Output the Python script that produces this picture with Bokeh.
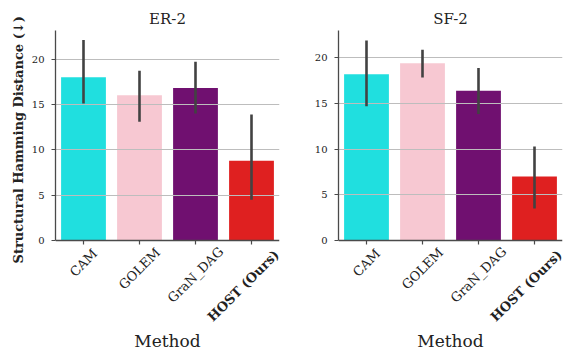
import math
from bokeh.plotting import figure
from bokeh.layouts import row
from bokeh.models import FactorRange, Range1d, FixedTicker, Label, Title
from bokeh.embed import file_html
from bokeh.resources import INLINE

methods = ["CAM", "GOLEM", "GraN_DAG", "HOST (Ours)"]
colors = ["#20dfdf", "#f7c8d2", "#701070", "#df2020"]
label_styles = ["normal", "normal", "normal", "bold"]
y_ticks = [0, 5, 10, 15, 20]

er2_mean = [18.0, 16.0, 16.8, 8.8]
er2_lo = [15.1, 13.1, 14.0, 4.5]
er2_hi = [22.1, 18.7, 19.7, 13.9]

sf2_mean = [18.2, 19.4, 16.4, 7.0]
sf2_lo = [14.7, 17.85, 13.85, 3.5]
sf2_hi = [21.9, 20.9, 18.9, 10.3]

FONT = "DejaVu Serif"
TEXT_COLOR = "#222222"
AXIS_COLOR = "#4a4a4a"
GRID_COLOR = "#bdbdbd"
ERR_COLOR = "#424242"

HEIGHT = 356
TOP = 30          # frame top (px)
ZERO = 240        # pixel row of y = 0
BOTTOM = 6        # border below frame
TICK_LEN = 4
FRAME_W = 224     # frame width (px)


def text_width(s, fs, bold):
    w = 0.0
    for c in s:
        if c.isupper():
            w += 0.76
        elif c.islower():
            w += 0.58
        elif c == " ":
            w += 0.32
        else:
            w += 0.45
    return 0.84 * w * fs * (1.22 if bold else 1.0)


def panel(title, mean, lo, hi, ymax, width, mb_left, mb_right, ylabel=None):
    n = len(methods)
    frame_bottom = HEIGHT - BOTTOM
    ystart = -ymax * (frame_bottom - ZERO) / (ZERO - TOP)
    px_per_unit = (ZERO - TOP) / ymax
    p = figure(x_range=FactorRange(*methods), y_range=Range1d(ystart, ymax),
               width=width, height=HEIGHT, output_backend="svg", toolbar_location=None,
               x_axis_location=None,
               min_border_left=mb_left, min_border_right=mb_right,
               min_border_top=TOP, min_border_bottom=BOTTOM)
    p.outline_line_color = None
    p.background_fill_color = "white"
    p.border_fill_color = "white"
    p.xgrid.visible = False
    p.ygrid.visible = False

    p.title.text = title
    p.title.align = "center"
    p.title.text_font = FONT
    p.title.text_font_size = "15px"
    p.title.text_font_style = "normal"
    p.title.text_color = TEXT_COLOR
    p.title.standoff = 6

    p.vbar(x=methods, top=mean, width=0.8, fill_color=colors, line_color=None)
    p.hspan(y=y_ticks[1:], line_color=GRID_COLOR, line_width=1.1)
    p.segment(x0=methods, y0=lo, x1=methods, y1=hi, line_color=ERR_COLOR,
              line_width=2.6)

    # x axis line and outward ticks at the categories
    p.hspan(y=[0], line_color=AXIS_COLOR, line_width=1.3)
    p.segment(x0=methods, y0=[0] * n, x1=methods,
              y1=[-TICK_LEN / px_per_unit] * n,
              line_color=AXIS_COLOR, line_width=1.2)

    ya = p.yaxis[0]
    ya.ticker = FixedTicker(ticks=y_ticks)
    ya.bounds = (0, ymax)
    ya.minor_tick_line_color = None
    ya.major_tick_in = 0
    ya.major_tick_out = TICK_LEN
    ya.major_tick_line_color = AXIS_COLOR
    ya.axis_line_color = AXIS_COLOR
    ya.axis_line_width = 1.3
    ya.major_label_text_font = FONT
    ya.major_label_text_font_size = "10px"
    ya.major_label_text_color = TEXT_COLOR
    ya.major_label_standoff = 7
    if ylabel:
        yt = Title(text=ylabel, align="left", offset=frame_bottom - (ZERO + 23),
                   text_font=FONT, text_font_style="bold", text_font_size="13px",
                   text_color=TEXT_COLOR, standoff=6)
        p.add_layout(yt, "left")

    fs = 13
    unit = FRAME_W / n
    for i, (m, st) in enumerate(zip(methods, label_styles)):
        w = text_width(m, fs, st == "bold")
        h = fs * 0.75
        side = (w + h) / math.sqrt(2)
        right = (i + 0.5) * unit + side / 2
        shift = min(0.0, FRAME_W - 1 - right)   # keep the label inside the frame
        p.add_layout(Label(x=i + 0.5, y=0, x_offset=shift, y_offset=-(10 + side / 2),
                           text=m, angle=45, angle_units="deg", text_align="center",
                           text_baseline="middle", text_font=FONT,
                           text_font_size=f"{fs}px", text_font_style=st,
                           text_color=TEXT_COLOR))

    p.add_layout(Label(x=n / 2, y=0, y_offset=-100, text="Method",
                       text_align="center", text_baseline="middle", text_font=FONT,
                       text_font_size="17px", text_color=TEXT_COLOR))
    return p


p1 = panel("ER-2", er2_mean, er2_lo, er2_hi, 23.15, 295, 55, 16,
           ylabel="Structural Hamming Distance (↓)")
p2 = panel("SF-2", sf2_mean, sf2_lo, sf2_hi, 23.0, 285, 43, 18)

p = row(p1, p2)
open("out.html", "w").write(file_html(p, INLINE))
